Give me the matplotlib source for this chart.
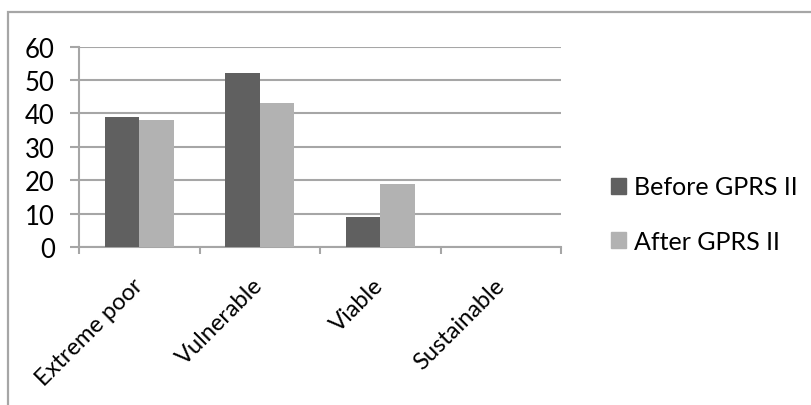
import matplotlib
matplotlib.use("Agg")
import matplotlib.pyplot as plt
from matplotlib.patches import Rectangle, Patch
import numpy as np

categories = ["Extreme poor", "Vulnerable", "Viable", "Sustainable"]
before = [39, 52, 9, 0]
after = [38, 43, 19, 0]
series_labels = ["Before GPRS II", "After GPRS II"]
yticks = [0, 10, 20, 30, 40, 50, 60]

plt.rcParams['font.family'] = ['Lato', 'DejaVu Sans']

W, H = 811, 406
fig = plt.figure(figsize=(W / 100, H / 100), dpi=100)

# chart border
fig.patches.append(Rectangle((8 / W, -0.1), 1.2, (H - 13) / H + 0.1, transform=fig.transFigure,
                             fill=False, edgecolor="#a6a6a6", linewidth=1.6))

ax = fig.add_axes([79 / W, (H - 248) / H, (561 - 79) / W, (248 - 47.5) / H])
grid_c = "#a6a6a6"
x = np.arange(len(categories))
bw = 1 / 3.5
dark, light = "#606060", "#b2b2b2"
ax.bar(x - bw / 2, before, bw, color=dark, label=series_labels[0], zorder=3)
ax.bar(x + bw / 2, after, bw, color=light, label=series_labels[1], zorder=3)

ax.set_xlim(-0.5, len(categories) - 0.5)
ax.set_ylim(0, 60)
ax.set_yticks(yticks)
ax.set_yticklabels([str(v) for v in yticks])
ax.yaxis.grid(True, color=grid_c, linewidth=1.5, zorder=0)
ax.set_axisbelow(True)

for s in ["top", "right"]:
    ax.spines[s].set_visible(False)
for s in ["left", "bottom"]:
    ax.spines[s].set_color(grid_c)
    ax.spines[s].set_linewidth(1.5)

ax.set_xticks(np.arange(len(categories) + 1) - 0.5, minor=False)
ax.set_xticklabels([])
ax.set_xticks(x, minor=True)
ax.set_xticklabels(categories, minor=True, rotation=45, ha="right", va="center",
                   rotation_mode="anchor", fontsize=17)
ax.tick_params(axis="x", which="major", length=5, width=1.5, color=grid_c, direction="out")
ax.tick_params(axis="x", which="minor", length=0, pad=25)
ax.tick_params(axis="y", length=6.5, width=1.5, color=grid_c, labelsize=18.5, pad=11)

handles = [Patch(color=dark), Patch(color=light)]
fig.legend(handles, series_labels, loc="center left", bbox_to_anchor=(611 / W, 1 - 215 / H),
           frameon=False, fontsize=18, handlelength=0.6, handleheight=0.6,
           labelspacing=1.25, handletextpad=0.3, borderpad=0, borderaxespad=0)

fig.savefig("out.png", dpi=100)
